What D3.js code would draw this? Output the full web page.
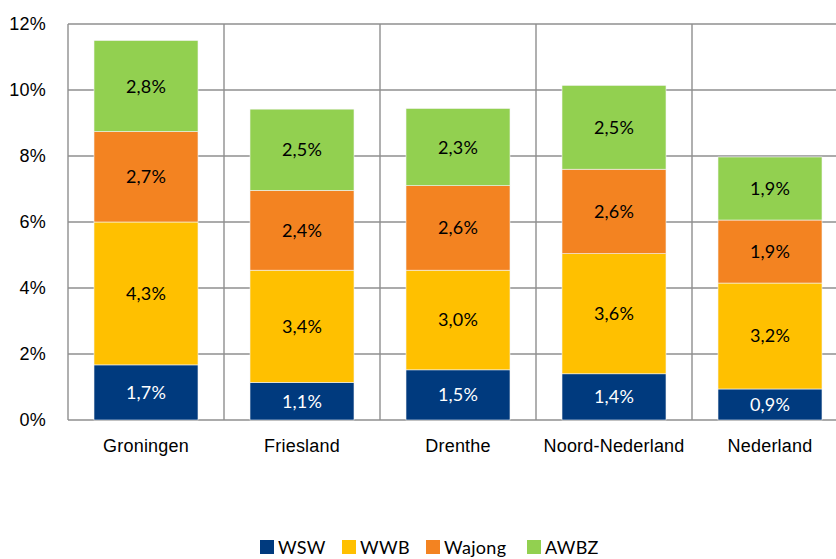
<!DOCTYPE html>
<html lang="nl">
<head>
<meta charset="UTF-8">
<title>Uitkeringen naar regio</title>
<script src="https://d3js.org/d3.v7.min.js"></script>
<style>
html, body { margin: 0; padding: 0; background: white; }
body { font-family: 'Lato', 'Open Sans', sans-serif; }
.axis text { font-size: 18px; fill: #000; letter-spacing: 0.2px; }
.seg-label { font-size: 18px; letter-spacing: 0.2px; }
.legend text { font-size: 18px; fill: #000; letter-spacing: 0.3px; }
.grid line { stroke: #8f8f8f; stroke-width: 1.4px; }
</style>
</head>
<body>
<div id="chart"></div>
<script>

// ---------- data ----------
const regions = ["Groningen", "Friesland", "Drenthe", "Noord-Nederland", "Nederland"];
const series = ["WSW", "WWB", "Wajong", "AWBZ"];
const wsw    = [1.67, 1.14, 1.52, 1.40, 0.94];
const wwb    = [4.33, 3.40, 3.02, 3.64, 3.21];
const wajong = [2.74, 2.42, 2.56, 2.56, 1.91];
const awbz   = [2.76, 2.46, 2.34, 2.54, 1.91];
const yTicks = [0, 2, 4, 6, 8, 10, 12];

const colors = {WSW: "#003a7e", WWB: "#ffc000", Wajong: "#f38321", AWBZ: "#92d050"};
const labelColors = {WSW: "#fff", WWB: "#000", Wajong: "#000", AWBZ: "#000"};

// table for the stack
const rows = regions.map((r, i) => ({
  region: r, WSW: wsw[i], WWB: wwb[i], Wajong: wajong[i], AWBZ: awbz[i]
}));

// ---------- size ----------
const totalWidth = 836, totalHeight = 559;
const plot = {left: 68, right: 848, top: 24, bottom: 420};

const svg = d3.select("#chart").append("svg")
  .attr("width", totalWidth)
  .attr("height", totalHeight);

// ---------- scales ----------
const x = d3.scaleBand()
  .domain(regions)
  .range([plot.left, plot.right])
  .paddingInner(1 / 3)
  .paddingOuter(1 / 6);

const y = d3.scaleLinear()
  .domain([0, 12])
  .range([plot.bottom, plot.top]);

const fmt = v => d3.format(".1f")(v).replace(".", ",") + "%";

// ---------- grid ----------
const grid = svg.append("g").attr("class", "grid");

grid.selectAll(".h")
  .data(yTicks)
  .join("line")
  .attr("x1", plot.left).attr("x2", plot.right)
  .attr("y1", d => y(d)).attr("y2", d => y(d));

const gap = x.step() * x.paddingInner() / 2;
const vLines = regions.map(r => x(r) - gap).concat([plot.right]);
grid.selectAll(".v")
  .data(vLines)
  .join("line")
  .attr("x1", d => d).attr("x2", d => d)
  .attr("y1", plot.top).attr("y2", plot.bottom);

// ---------- bars ----------
const stacked = d3.stack().keys(series)(rows);

const layers = svg.selectAll(".layer")
  .data(stacked)
  .join("g")
  .attr("class", "layer")
  .attr("fill", d => colors[d.key]);

layers.selectAll("rect")
  .data(d => d)
  .join("rect")
  .attr("x", d => x(d.data.region))
  .attr("width", x.bandwidth())
  .attr("y", d => y(d[1]))
  .attr("height", d => y(d[0]) - y(d[1]))
  .attr("stroke", "#f4f4f4")
  .attr("stroke-width", 0.6);

layers.each(function (s) {
  d3.select(this).selectAll("text")
    .data(s)
    .join("text")
    .attr("class", "seg-label")
    .attr("x", d => x(d.data.region) + x.bandwidth() / 2)
    .attr("y", d => (y(d[0]) + y(d[1])) / 2)
    .attr("dy", "0.36em")
    .attr("text-anchor", "middle")
    .attr("fill", labelColors[s.key])
    .text(d => fmt(d[1] - d[0]));
});

// ---------- axes ----------
const yAxis = svg.append("g")
  .attr("class", "axis")
  .attr("transform", `translate(${plot.left},0)`)
  .call(d3.axisLeft(y).tickValues(yTicks).tickSize(0).tickPadding(22)
    .tickFormat(d => d + "%"));
yAxis.select(".domain").remove();

const xAxis = svg.append("g")
  .attr("class", "axis")
  .attr("transform", `translate(0,${plot.bottom})`)
  .call(d3.axisBottom(x).tickSize(0).tickPadding(19));
xAxis.select(".domain").remove();

// ---------- legend ----------
const legendX = [260, 342, 426, 527];
const legend = svg.append("g").attr("class", "legend");
const item = legend.selectAll("g")
  .data(series)
  .join("g")
  .attr("transform", (d, i) => `translate(${legendX[i]},540)`);
item.append("rect")
  .attr("width", 14).attr("height", 14)
  .attr("fill", d => colors[d]);
item.append("text")
  .attr("x", 18).attr("y", 14)
  .text(d => d);

</script>
</body>
</html>
